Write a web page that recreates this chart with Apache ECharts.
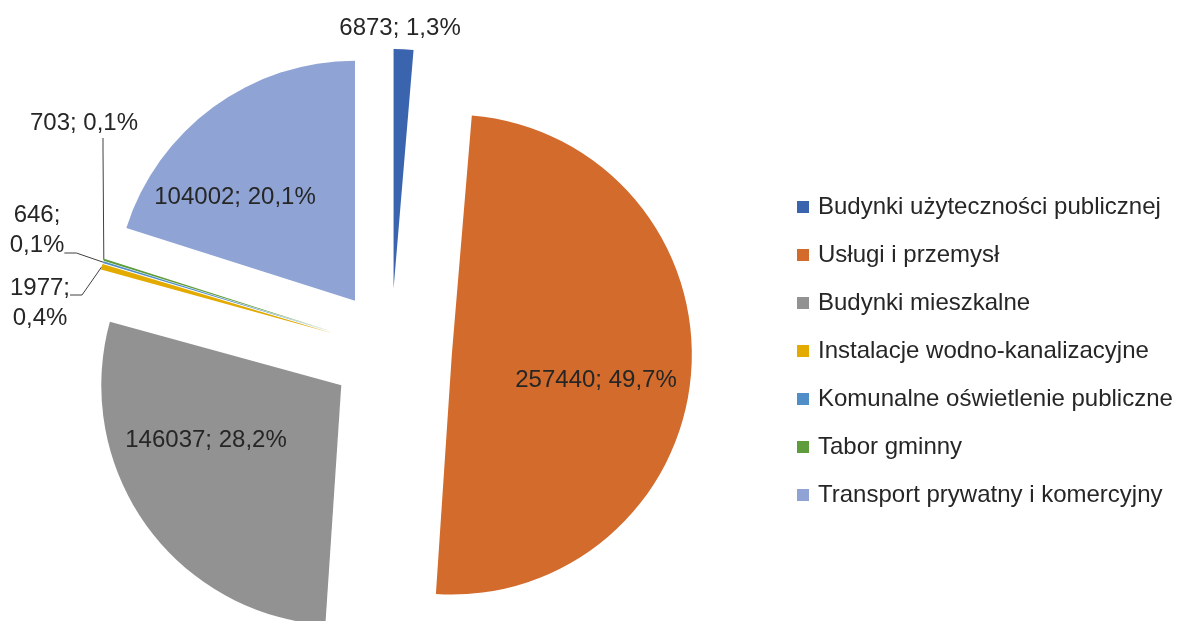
<!DOCTYPE html>
<html>
<head>
<meta charset="utf-8">
<script src="https://cdn.jsdelivr.net/npm/echarts@6/dist/echarts.min.js"></script>
<style>
  html, body { margin: 0; padding: 0; background: #fff; }
  #chart { width: 1182px; height: 621px; }
</style>
</head>
<body>
<div id="chart"></div>
<script>
// dane
const categories = [
  'Budynki użyteczności publicznej',
  'Usługi i przemysł',
  'Budynki mieszkalne',
  'Instalacje wodno-kanalizacyjne',
  'Komunalne oświetlenie publiczne',
  'Tabor gminny',
  'Transport prywatny i komercyjny'
];
const values = [6873, 257440, 146037, 1977, 646, 703, 104002];

const colors = ['#3B64AE', '#D26B2B', '#929292', '#E3AA00', '#4F8EC6', '#5E9C3C', '#8FA4D5'];
const FONT = "'Liberation Sans', Arial, sans-serif";
const CENTER = [391, 350];
const RADIUS = 240;
const EXPLODE = 61;

// położenie etykiet (tylko wygląd)
// spacer: pusty wiersz nad (top) lub pod (bottom) tekstem, żeby linia odniesienia trafiła niżej/wyżej
const labelSpots = {
  0: { x: 400, y: 28 },
  1: { x: 596, y: 380 },
  2: { x: 206, y: 440 },
  3: { x: 40, y: 295, wrap: true, spacer: 'top' },
  4: { x: 37, y: 253, wrap: true, spacer: 'bottom' },
  5: { x: 103, y: 123, pad: [0, 38, 0, 0] },
  6: { x: 235, y: 197 }
};
const insideIdx = [1, 2, 6];

const total = values.reduce((a, b) => a + b, 0);

// wysunięcie każdego wycinka wzdłuż jego dwusiecznej
const sliceShift = (() => {
  let acc = 0;
  return values.map(v => {
    const mid = (acc + v / 2) / total * Math.PI * 2;
    acc += v;
    return [Math.sin(mid) * EXPLODE, -Math.cos(mid) * EXPLODE];
  });
})();

const fmt = (i) => {
  const s = labelSpots[i];
  const pct = (values[i] / total * 100).toFixed(1).replace('.', ',');
  const txt = values[i] + ';' + (s.wrap ? '\n' : ' ') + pct + '%';
  if (s.spacer === 'top') return '{top| }\n' + txt;
  if (s.spacer === 'bottom') return txt + '\n{bot| }';
  return txt;
};

// jedna seria na wycinek - reszta wycinków niewidoczna, żeby kąty się zgadzały
const series = categories.map((_, k) => ({
  type: 'pie',
  center: [CENTER[0] + sliceShift[k][0], CENTER[1] + sliceShift[k][1]],
  radius: RADIUS,
  startAngle: 90,
  clockwise: true,
  avoidLabelOverlap: false,
  emphasis: { disabled: true },
  itemStyle: { borderWidth: 0 },
  label: {
    fontFamily: FONT,
    fontSize: 24,
    color: '#262626',
    lineHeight: 30,
    formatter: (p) => fmt(p.dataIndex),
    rich: {
      top: { lineHeight: 16, fontSize: 10 },
      bot: { lineHeight: 46, fontSize: 10 }
    }
  },
  labelLine: {
    length: 10,
    length2: 12,
    lineStyle: { color: '#404040', width: 1 }
  },
  labelLayout: (params) => {
    if (params.dataIndex !== k) return {};
    const s = labelSpots[k];
    return { x: s.x, y: s.y, align: 'center', verticalAlign: 'middle' };
  },
  data: categories.map((name, i) => i === k ? {
    name: name,
    value: values[i],
    itemStyle: { color: colors[i] },
    label: {
      show: true,
      position: insideIdx.includes(i) ? 'inside' : 'outside',
      padding: labelSpots[i].pad || 0
    },
    labelLine: { show: !insideIdx.includes(i) && i !== 0 }
  } : {
    name: name,
    value: values[i],
    itemStyle: { color: colors[i], opacity: 0 },
    label: { show: false },
    labelLine: { show: false }
  })
}));

const chart = echarts.init(document.getElementById('chart'));

chart.setOption({
  animation: false,
  legend: {
    orient: 'vertical',
    left: 792,
    top: 189,
    icon: 'rect',
    itemWidth: 12,
    itemHeight: 12,
    itemGap: 22,
    selectedMode: false,
    textStyle: { fontFamily: FONT, fontSize: 24, color: '#262626', lineHeight: 26, padding: [0, 0, 0, 4] },
    data: categories.map((name, i) => ({
      name: name,
      itemStyle: { color: colors[i], opacity: 1, borderWidth: 0 }
    }))
  },
  series: series
});
</script>
</body>
</html>
